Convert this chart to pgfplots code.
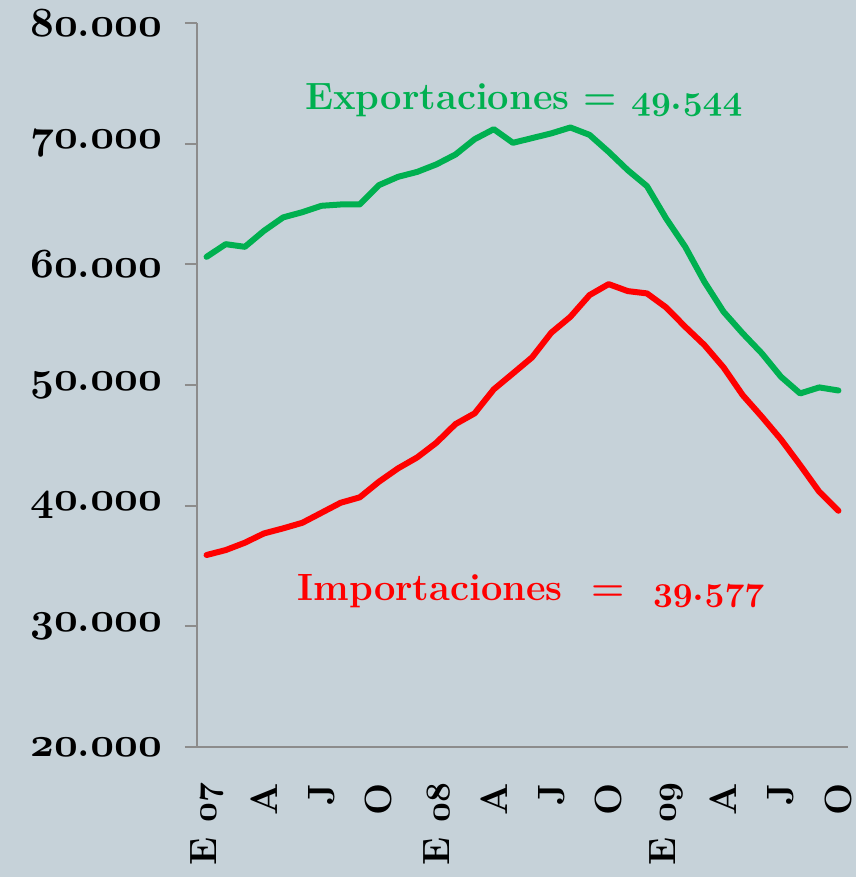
\documentclass[border=0pt]{standalone}
\usepackage{pgfplots}
\pgfplotsset{compat=1.18}
\definecolor{bgcol}{HTML}{C6D2D9}
\definecolor{expgreen}{HTML}{00B050}
\definecolor{impred}{HTML}{FF0000}
\definecolor{axgray}{HTML}{8C8C8C}
\newcommand{\osn}[1]{\mbox{\boldmath$\mathnormal{#1}$}}
\newcommand{\ylab}[1]{\textbf{\osn{#1}.\osn{000}}}
\begin{document}
\begin{tikzpicture}
\useasboundingbox (-98.5pt,-65pt) rectangle (329.5pt,373.5pt);
\fill[bgcol] (-98.5pt,-65pt) rectangle (329.5pt,373.5pt);
\begin{axis}[
  at={(0,0)}, anchor=south west,
  scale only axis, width=325.5pt, height=362pt,
  xmin=-0.5, xmax=33.5, ymin=20000, ymax=80000,
  axis x line=bottom, axis y line=left,
  axis line style={draw=axgray, line width=1pt, -},
  tick align=outside,
  major tick length=6pt, minor tick length=6pt,
  every tick/.style={draw=axgray, line width=1pt},
  scaled y ticks=false,
  xtick={0,3,...,33},
  xtick style={draw=none},
  minor xtick={-0.5,0.5,...,33.5},
  xticklabels={\textbf{E \osn{07}},\textbf{A},\textbf{J},\textbf{O},\textbf{E \osn{08}},\textbf{A},\textbf{J},\textbf{O},\textbf{E \osn{09}},\textbf{A},\textbf{J},\textbf{O}},
  xticklabel style={rotate=90, anchor=east, xshift=-8.5pt, font=\fontsize{19}{22}\selectfont\bfseries},
  ytick={20000,30000,...,80000},
  yticklabels={\ylab{20},\ylab{30},\ylab{40},\ylab{50},\ylab{60},\ylab{70},\ylab{80}},
  yticklabel style={xshift=-8pt, font=\fontsize{20}{22}\selectfont\bfseries},
  clip=false,
]
\addplot[expgreen, line width=3pt, line join=round, line cap=round] coordinates {
(0,60620) (1,61670) (2,61450) (3,62780) (4,63890) (5,64320) (6,64850) (7,64960)
(8,64960) (9,66560) (10,67250) (11,67660) (12,68280) (13,69100) (14,70370) (15,71200)
(16,70070) (17,70460) (18,70850) (19,71340) (20,70730) (21,69320) (22,67800) (23,66480)
(24,63800) (25,61450) (26,58550) (27,56070) (28,54280) (29,52620) (30,50680) (31,49300)
(32,49800) (33,49544)};
\addplot[impred, line width=3pt, line join=round, line cap=round] coordinates {
(0,35910) (1,36320) (2,36930) (3,37700) (4,38120) (5,38580) (6,39410) (7,40240)
(8,40690) (9,41980) (10,43090) (11,44000) (12,45210) (13,46760) (14,47650) (15,49640)
(16,50960) (17,52290) (18,54330) (19,55650) (20,57450) (21,58360) (22,57780) (23,57590)
(24,56430) (25,54820) (26,53310) (27,51460) (28,49160) (29,47370) (30,45490) (31,43360)
(32,41150) (33,39577)};
\node[anchor=base, text=expgreen, font=\fontsize{19}{22}\selectfont\bfseries, inner sep=0pt]
  at (axis cs:16.57,72858) {\bfseries Exportaciones = \osn{49}.\osn{544}};
\node[anchor=base, text=impred, font=\fontsize{19}{22}\selectfont\bfseries, inner sep=0pt]
  at (axis cs:16.94,32121) {\bfseries Importaciones \ = \ \osn{39}.\osn{577}};
\end{axis}
\end{tikzpicture}
\end{document}
